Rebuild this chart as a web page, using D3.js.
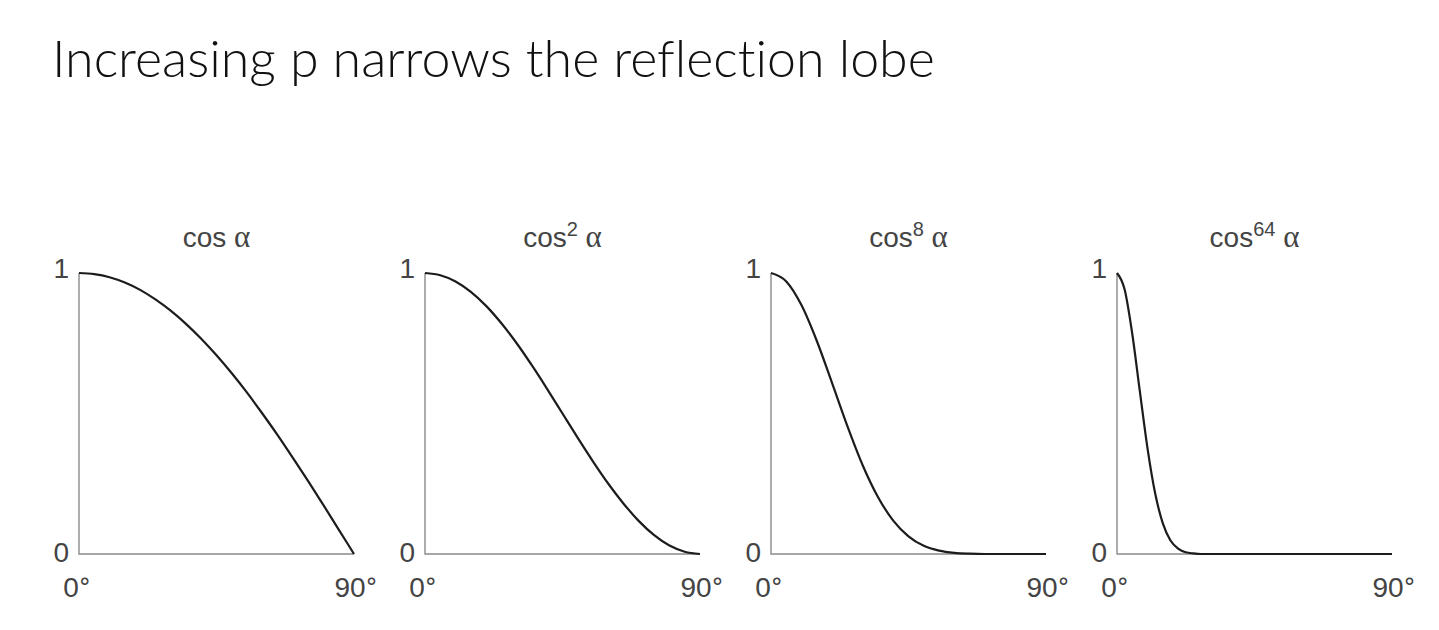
<!DOCTYPE html>
<html>
<head>
<meta charset="utf-8">
<script src="https://cdn.jsdelivr.net/npm/d3@7"></script>
<style>
  body { margin: 0; background: #fff; }
  svg { display: block; }
</style>
</head>
<body>
<svg id="chart"></svg>
<script>
const width = 1439
const height = 630

// angles read along the x axis (degrees)
const angles = [0, 5, 10, 15, 20, 25, 30, 35, 40, 45, 50, 55, 60, 65, 70, 75, 80, 85, 90]
const anglesFine = [0, 2.5, 5, 7.5, 10, 12.5, 15, 17.5, 20, 22.5, 25, 27.5, 30, 40, 50, 60, 70, 80, 90]

// curve heights
const cos1 = [1, .996, .985, .966, .940, .906, .866, .819, .766, .707, .643, .574, .500, .423, .342, .259, .174, .087, 0]
const cos2 = [1, .992, .970, .933, .883, .821, .750, .671, .587, .500, .413, .329, .250, .179, .117, .067, .030, .008, 0]
const cos8 = [1, .970, .885, .758, .608, .455, .316, .203, .119, .063, .029, .012, .004, .001, 0, 0, 0, 0, 0]
const cos64 = [1, .941, .783, .577, .375, .215, .109, .048, .019, .006, .002, 0, 0, 0, 0, 0, 0, 0, 0]

const panels = [
    { base: 'cos', sup: '', xs: angles, ys: cos1 },
    { base: 'cos', sup: '2', xs: angles, ys: cos2 },
    { base: 'cos', sup: '8', xs: angles, ys: cos8 },
    { base: 'cos', sup: '64', xs: anglesFine, ys: cos64 }
]

const svg = d3.select('#chart')
    .attr('width', width)
    .attr('height', height)

svg.append('rect').attr('width', width).attr('height', height).attr('fill', '#fff')

// page title
const title = svg.append('text')
    .attr('x', 52)
    .attr('y', 77)
    .style('font-family', "Lato, 'Open Sans', sans-serif")
    .style('font-weight', 300)
    .style('font-size', '48px')
    .style('font-variant-ligatures', 'none')
    .attr('fill', '#111')
    .text('Increasing p narrows the reflection lobe')

// fit the title to the width it takes in the picture
const titleLen = title.node().getComputedTextLength()
title.style('font-size', (48 * 883 / titleLen).toFixed(1) + 'px')

const panelPos = d3.scaleBand()
    .domain(d3.range(panels.length))
    .range([79, 79 + 346 * 4])

const plotW = 275
const y = d3.scaleLinear().domain([0, 1]).range([554, 273])

const labelColor = '#444'
const labelFont = "'Liberation Sans', Arial, sans-serif"
const alphaFont = "'Liberation Serif', 'Times New Roman', serif"

function degreeLabel(g, xPos, num) {
    const t = g.append('text')
        .attr('x', xPos)
        .attr('y', 597)
        .attr('text-anchor', 'middle')
    t.append('tspan').text(num)
    t.append('tspan')
        .style('font-family', "'DejaVu Sans', sans-serif")
        .style('font-size', '24px')
        .attr('dy', -1)
        .text('°')
    return t
}

panels.forEach((p, i) => {
    const x0 = panelPos(i)
    const x = d3.scaleLinear().domain([0, 90]).range([x0, x0 + plotW])
    const g = svg.append('g').attr('class', 'panel')

    // axes
    g.append('path')
        .attr('d', `M${x(0)},${y(1)}V${y(0)}H${x(90)}`)
        .attr('fill', 'none')
        .attr('stroke', '#8a8a8a')
        .attr('stroke-width', 1.4)

    // curve
    const line = d3.line()
        .x((d, j) => x(p.xs[j]))
        .y(d => y(d))
        .curve(d3.curveMonotoneX)

    g.append('path')
        .datum(p.ys)
        .attr('d', line)
        .attr('fill', 'none')
        .attr('stroke', '#1c1c1c')
        .attr('stroke-width', 2.2)

    const labels = g.append('g')
        .style('font-family', labelFont)
        .style('font-size', '28px')
        .attr('fill', labelColor)

    // y labels
    labels.append('text')
        .attr('x', x(0) - 10)
        .attr('y', y(1) + 5)
        .attr('text-anchor', 'end')
        .text('1')
    labels.append('text')
        .attr('x', x(0) - 10)
        .attr('y', y(0) + 8)
        .attr('text-anchor', 'end')
        .text('0')

    // x labels
    degreeLabel(labels, x(0) - 2, '0')
    degreeLabel(labels, x(90) + 2, '90')

    // panel title
    const t = labels.append('text')
        .attr('x', x(45))
        .attr('y', 247)
        .attr('text-anchor', 'middle')
    t.append('tspan').text(p.base)
    if (p.sup) {
        t.append('tspan')
            .attr('dy', -11)
            .style('font-size', '20px')
            .text(p.sup)
    }
    t.append('tspan')
        .attr('dy', p.sup ? 11 : 0)
        .style('font-family', alphaFont)
        .style('font-size', '31px')
        .text(' α')
})
</script>
</body>
</html>
